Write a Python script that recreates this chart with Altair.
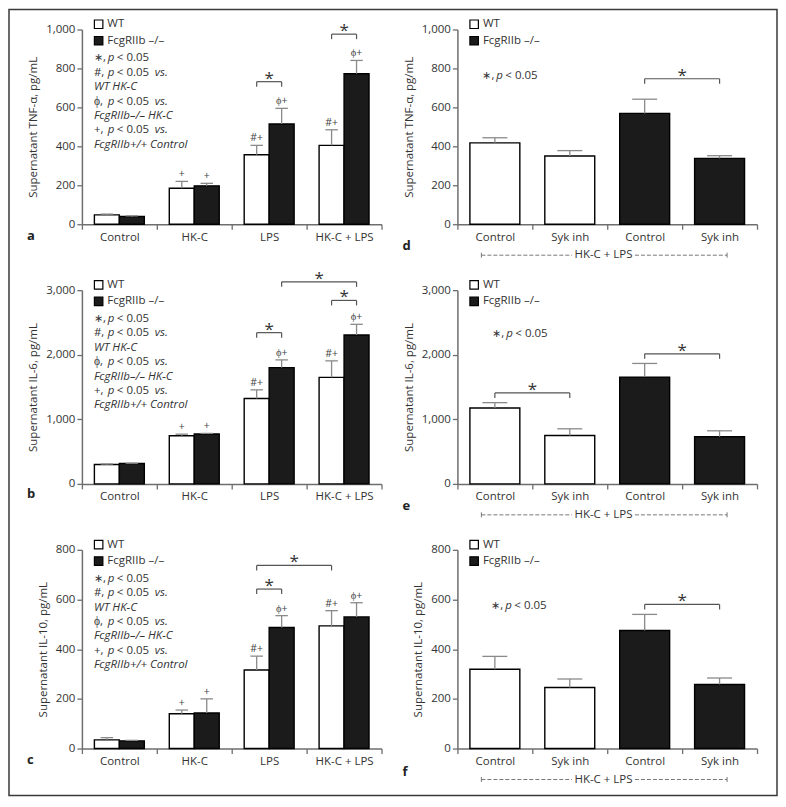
import json
import altair as alt
import pandas as pd

FONT = "Open Sans"
TEXT = "#333333"
AXIS = "#6e6e6e"
ERRC = "#8a8a8a"
BARC = "#1b1b1b"
BRC = "#555555"

GENOTYPES = ["WT", "FcgRIIb –/–"]
FILLS = ["#ffffff", BARC]

# ---- panels a-c (stimulus x genotype) ----
CATS_STIM = ["Control", "HK-C", "LPS", "HK-C + LPS"]
GENO_STIM = ["WT", "FcgRIIb –/–"] * 4
MARKS_STIM = ["", "", "+", "+", "#+", "ϕ+", "#+", "ϕ+"]

TNF_MEAN = [48, 40, 185, 197, 357, 515, 405, 773]
TNF_SEM = [4, 3, 35, 13, 48, 80, 80, 68]
TNF_BRACKETS = [(4, 5, 732), (6, 7, 976)]

IL6_MEAN = [300, 315, 745, 772, 1323, 1800, 1650, 2306]
IL6_SEM = [8, 5, 25, 10, 133, 120, 255, 165]
IL6_BRACKETS = [(4, 5, 2342), (6, 7, 2841), (5, 7, 3129)]

IL10_MEAN = [35, 31, 140, 143, 316, 487, 494, 530]
IL10_SEM = [9, 2, 15, 57, 56, 48, 61, 57]
IL10_BRACKETS = [(4, 5, 642), (4, 6, 737)]

# ---- panels d-f (Syk inhibitor, HK-C + LPS) ----
CATS_SYK = ["Control", "Syk inh", "Control", "Syk inh"]
GENO_SYK = ["WT", "WT", "FcgRIIb –/–", "FcgRIIb –/–"]
MARKS_SYK = ["", "", "", ""]

TNF_SYK_MEAN = [418, 350, 569, 338]
TNF_SYK_SEM = [26, 28, 73, 14]
TNF_SYK_BRACKETS = [(2, 3, 747)]

IL6_SYK_MEAN = [1176, 750, 1654, 729]
IL6_SYK_SEM = [82, 103, 211, 93]
IL6_SYK_BRACKETS = [(0, 1, 1408), (2, 3, 2014)]

IL10_SYK_MEAN = [319, 246, 475, 258]
IL10_SYK_SEM = [52, 34, 65, 26]
IL10_SYK_BRACKETS = [(2, 3, 580)]

# statistics notes (text, style)
NOTE_LONG = [
    [("∗,", "n"), ("p", "i"), ("< 0.05", "n")],
    [("#,", "n"), ("p", "i"), ("< 0.05", "n"), ("vs.", "i")],
    [("WT HK-C", "i")],
    [("ϕ,", "n"), ("p", "i"), ("< 0.05", "n"), ("vs.", "i")],
    [("FcgRIIb–/– HK-C", "i")],
    [("+,", "n"), ("p", "i"), ("< 0.05", "n"), ("vs.", "i")],
    [("FcgRIIb+/+ Control", "i")],
]
NOTE_SHORT = [[("∗,", "n"), ("p", "i"), ("< 0.05", "n")]]
SEG_X = [0, 14, 23, 61]

HKC_LABEL = "HK-C + LPS"


def note_rows(lines, x0, y0, dy=14.4):
    rows = []
    for k, line in enumerate(lines):
        for j, (t, st) in enumerate(line):
            rows.append({"t": t, "px": x0 + SEG_X[j], "py": y0 + k * dy, "st": st})
    return pd.DataFrame(rows)


def build_panel(cats, means, sems, genos, marks, brackets, ymax, ystep, ytitle,
                height, grouped, letter, letter_dy, note_lines, note_xy,
                width=300, frame=False, hkc=False):
    n = len(cats)
    rows = []
    for i, (m, s, g, mk) in enumerate(zip(means, sems, genos, marks)):
        if grouped:
            w = 1 / 3
            x0 = i // 2 + 1 / 6 + (i % 2) * w
        else:
            w = 2 / 3
            x0 = i + 1 / 6
        cx = x0 + w / 2
        rows.append({"x0": x0, "x1": x0 + w, "cx": cx, "c0": cx - w / 4, "c1": cx + w / 4,
                     "base": 0, "mean": m, "top": m + s, "geno": g, "mark": mk})
    bars = pd.DataFrame(rows)
    centers = bars["cx"].tolist()
    tick = 5 * ymax / height
    br_lines = pd.DataFrame([{"xa": centers[a], "xb": centers[b], "y": y, "yt": y - tick,
                              "xm": (centers[a] + centers[b]) / 2} for a, b, y in brackets])
    br_ticks = pd.DataFrame([{"x": centers[k], "y": y, "yt": y - tick}
                             for a, b, y in brackets for k in (a, b)])

    xscale = alt.Scale(domain=[0, n], nice=False, zero=False)
    label_expr = ("(datum.value % 1) == 0 ? '' : "
                  + json.dumps(cats, ensure_ascii=False) + "[floor(datum.value)]")
    xaxis = alt.Axis(values=[k / 2 for k in range(2 * n + 1)], labelExpr=label_expr,
                     tickOpacity={"condition": {"test": "(datum.value % 1) == 0", "value": 1},
                                  "value": 0},
                     title=None, labelOverlap=False, labelFlush=False, labelPadding=2,
                     grid=False)
    yscale = alt.Scale(domain=[0, ymax], nice=False)
    yaxis = alt.Axis(values=list(range(0, ymax + 1, ystep)), format=",.0f", title=ytitle,
                     titlePadding=7, labelPadding=2, grid=False)

    def X(f):
        return alt.X(f, type="quantitative", scale=xscale, axis=xaxis)

    def Y(f):
        return alt.Y(f, type="quantitative", scale=yscale, axis=yaxis)

    legend = alt.Legend(orient="none", legendX=11, legendY=-11, title=None,
                        symbolType="square", symbolSize=72, symbolStrokeColor="black",
                        symbolStrokeWidth=1.2, labelFontSize=11.5, labelColor=TEXT,
                        rowPadding=2.5, labelOffset=3, padding=0)

    layers = []
    layers.append(
        alt.Chart(bars).mark_rect(stroke="black", strokeWidth=1.4).encode(
            x=X("x0"), x2="x1", y=Y("mean"), y2="base",
            fill=alt.Fill("geno:N", scale=alt.Scale(domain=GENOTYPES, range=FILLS),
                          legend=legend)))
    layers.append(alt.Chart(bars).mark_rule(color=ERRC, strokeWidth=1.3).encode(
        x=X("cx"), y=Y("mean"), y2="top"))
    layers.append(alt.Chart(bars).mark_rule(color=ERRC, strokeWidth=1.3).encode(
        x=X("c0"), x2="c1", y=Y("top")))
    layers.append(alt.Chart(bars).mark_text(baseline="alphabetic", dy=-4, fontSize=10.5,
                                            color="#444444").encode(
        x=X("cx"), y=Y("top"), text="mark:N"))
    layers.append(alt.Chart(br_lines).mark_rule(color=BRC, strokeWidth=1.2).encode(
        x=X("xa"), x2="xb", y=Y("y")))
    layers.append(alt.Chart(br_ticks).mark_rule(color=BRC, strokeWidth=1.2).encode(
        x=X("x"), y=Y("y"), y2="yt"))
    layers.append(alt.Chart(br_lines).mark_text(text="*", fontSize=17, baseline="alphabetic",
                                                dy=2, color=TEXT).encode(
        x=X("xm"), y=Y("y")))

    notes = note_rows(note_lines, note_xy[0], note_xy[1])
    for st, style in (("n", "normal"), ("i", "italic")):
        sub = notes[notes["st"] == st]
        if len(sub):
            layers.append(alt.Chart(sub).mark_text(align="left", baseline="middle",
                                                   fontSize=11.5, color=TEXT,
                                                   fontStyle=style).encode(
                x=alt.X("px:Q", scale=None, axis=None),
                y=alt.Y("py:Q", scale=None, axis=None),
                text="t:N"))

    layers.append(alt.Chart(pd.DataFrame({"t": [letter]})).mark_text(
        fontSize=13, fontWeight="bold", color="#222222", baseline="middle",
        align="left").encode(x=alt.value(-55), y=alt.value(height + letter_dy), text="t:N"))

    if hkc:
        dash = pd.DataFrame({"xa": [0.32, 2.37], "xb": [1.53, 3.6]})
        layers.append(alt.Chart(dash).mark_rule(color="#777777", strokeWidth=1,
                                                strokeDash=[4, 2]).encode(
            x=X("xa"), x2="xb", y=alt.value(height + 31)))
        ends = pd.DataFrame({"x": [0.32, 3.6]})
        layers.append(alt.Chart(ends).mark_rule(color="#777777", strokeWidth=1).encode(
            x=X("x"), y=alt.value(height + 28.5), y2=alt.value(height + 33.5)))
        layers.append(alt.Chart(pd.DataFrame({"x": [1.95], "t": [HKC_LABEL]})).mark_text(
            fontSize=11.5, color=TEXT, baseline="middle").encode(
            x=X("x"), y=alt.value(height + 31), text="t:N"))

    if frame:
        layers.append(alt.Chart(pd.DataFrame({"k": [0]})).mark_rect(
            fill="transparent", stroke="#3a3a3a", strokeWidth=1.5).encode(
            x=alt.value(-73), x2=alt.value(696), y=alt.value(-20), y2=alt.value(767)))

    return alt.layer(*layers).properties(width=width, height=height)


pa = build_panel(CATS_STIM, TNF_MEAN, TNF_SEM, GENO_STIM, MARKS_STIM, TNF_BRACKETS,
                 1000, 200, "Supernatant TNF-α, pg/mL", 195, True, "a", 12,
                 NOTE_LONG, (12, 29), frame=True)
pb = build_panel(CATS_STIM, IL6_MEAN, IL6_SEM, GENO_STIM, MARKS_STIM, IL6_BRACKETS,
                 3000, 1000, "Supernatant IL-6, pg/mL", 194, True, "b", 10,
                 NOTE_LONG, (12, 29))
pc = build_panel(CATS_STIM, IL10_MEAN, IL10_SEM, GENO_STIM, MARKS_STIM, IL10_BRACKETS,
                 800, 200, "Supernatant IL-10, pg/mL", 199, True, "c", 11,
                 NOTE_LONG, (12, 29))
pd_ = build_panel(CATS_SYK, TNF_SYK_MEAN, TNF_SYK_SEM, GENO_SYK, MARKS_SYK, TNF_SYK_BRACKETS,
                  1000, 200, "Supernatant TNF-α, pg/mL", 195, False, "d", 22,
                  NOTE_SHORT, (25, 47), hkc=True)
pe = build_panel(CATS_SYK, IL6_SYK_MEAN, IL6_SYK_SEM, GENO_SYK, MARKS_SYK, IL6_SYK_BRACKETS,
                 3000, 1000, "Supernatant IL-6, pg/mL", 194, False, "e", 22,
                 NOTE_SHORT, (35, 44), hkc=True)
pf = build_panel(CATS_SYK, IL10_SYK_MEAN, IL10_SYK_SEM, GENO_SYK, MARKS_SYK, IL10_SYK_BRACKETS,
                 800, 200, "Supernatant IL-10, pg/mL", 199, False, "f", 23,
                 NOTE_SHORT, (34, 56), hkc=True)

chart = alt.concat(pa, pd_, pb, pe, pc, pf, columns=2,
                   spacing={"row": 66, "column": 76}, bounds="flush").resolve_scale(
    x="independent", y="independent", fill="independent")

chart = chart.properties(padding=0).configure(font=FONT).configure_view(
    stroke=None
).configure_axis(
    domainColor=AXIS, domainWidth=1.5, tickColor=AXIS, tickWidth=1.3, tickSize=5,
    labelColor=TEXT, labelFontSize=11.5, labelFont=FONT, titleColor=TEXT,
    titleFontSize=11.5, titleFontWeight="normal", titleFont=FONT
).configure_legend(labelFont=FONT)

chart.save("out.html", embed_options={"renderer": "svg", "actions": False})
